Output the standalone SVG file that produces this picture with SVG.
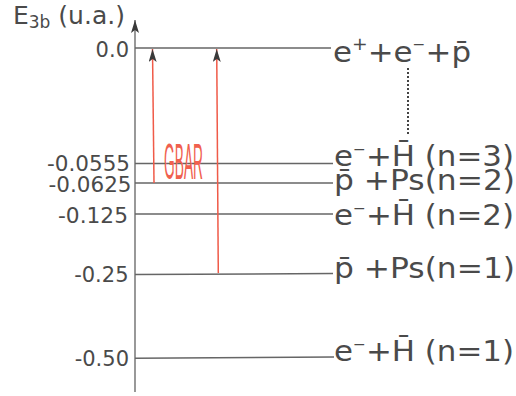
<svg xmlns="http://www.w3.org/2000/svg" width="516" height="396" viewBox="0 0 516 396">
<style>
.lvl{stroke:#666;stroke-width:1.5;fill:none}
.ax{stroke:#444;stroke-width:1.1;fill:none}
.red{stroke:#f05a48;stroke-width:1.5;fill:none}
.tick{font-family:"DejaVu Sans",sans-serif;font-size:21px;fill:#4a4a4a;text-anchor:end}
.lab{font-family:"DejaVu Sans",sans-serif;font-size:28px;fill:#4a4a4a}
.sup{font-size:14px}
.dot{stroke:#444;stroke-width:2;stroke-dasharray:2 2;fill:none}
</style>
<defs>
<marker id="ah" viewBox="0 0 13 8" refX="13" refY="4" markerWidth="13" markerHeight="8" markerUnits="userSpaceOnUse" orient="auto">
<path d="M0,0 L13,4 L0,8 L3,4 Z" fill="#3a3a3a"/>
</marker>
</defs>
<g id="axis">
<line class="ax" x1="135" y1="392" x2="135" y2="20" marker-end="url(#ah)"/>
<text x="13" y="24" style="font-family:'DejaVu Sans',sans-serif;font-size:25px;fill:#4a4a4a">E<tspan font-size="17" dy="4">3b</tspan><tspan dy="-4"> (u.a.)</tspan></text>
</g>
<g id="level-0">
<line class="lvl" x1="135" y1="48" x2="331" y2="48"/>
<text class="tick" x="129" y="57">0.0</text>
<text class="lab" x="333" y="62" font-size="30" textLength="138" lengthAdjust="spacingAndGlyphs">e<tspan font-size="17" dy="-12">+</tspan><tspan dy="12">+e</tspan><tspan class="sup" dy="-13">−</tspan><tspan dy="13">+p̄</tspan></text>
</g>
<g id="level-0555">
<line class="lvl" x1="135" y1="163.5" x2="333" y2="163.5"/>
<text class="tick" x="130" y="171" textLength="83" lengthAdjust="spacingAndGlyphs">-0.0555</text>
<text class="lab" x="334" y="166" textLength="180" lengthAdjust="spacingAndGlyphs">e<tspan class="sup" dy="-12">−</tspan><tspan dy="12">+H̄ (n=3)</tspan></text>
</g>
<g id="level-0625">
<line class="lvl" x1="135" y1="183" x2="333" y2="183"/>
<text class="tick" x="131.5" y="192" textLength="83" lengthAdjust="spacingAndGlyphs">-0.0625</text>
<text class="lab" x="334" y="190" textLength="181" lengthAdjust="spacingAndGlyphs">p̄ +Ps(n=2)</text>
</g>
<g id="level-125">
<line class="lvl" x1="135" y1="214" x2="333" y2="214"/>
<text class="tick" x="128" y="222.5" textLength="70" lengthAdjust="spacingAndGlyphs">-0.125</text>
<text class="lab" x="334" y="225" textLength="180" lengthAdjust="spacingAndGlyphs">e<tspan class="sup" dy="-12">−</tspan><tspan dy="12">+H̄ (n=2)</tspan></text>
</g>
<g id="level-25">
<line class="lvl" x1="135" y1="274.5" x2="333" y2="273.5"/>
<text class="tick" x="128.5" y="282">-0.25</text>
<text class="lab" x="334" y="278" textLength="181" lengthAdjust="spacingAndGlyphs">p̄ +Ps(n=1)</text>
</g>
<g id="level-50">
<line class="lvl" x1="135" y1="358.3" x2="334" y2="357"/>
<text class="tick" x="129" y="366">-0.50</text>
<text class="lab" x="334" y="361" textLength="180" lengthAdjust="spacingAndGlyphs">e<tspan class="sup" dy="-12">−</tspan><tspan dy="12">+H̄ (n=1)</tspan></text>
</g>
<g id="connectors">
<line class="red" x1="154" y1="183" x2="152.5" y2="49" marker-end="url(#ah)"/>
<line class="red" x1="218.3" y1="273" x2="216.7" y2="49" marker-end="url(#ah)"/>
<line class="dot" x1="408" y1="68" x2="408" y2="134"/>
</g>
<g id="gbar">
<text x="164" y="179" textLength="39" lengthAdjust="spacingAndGlyphs" style="font-family:'Liberation Sans',sans-serif;font-size:50px;fill:#f0604e">GBAR</text>
</g>
</svg>
